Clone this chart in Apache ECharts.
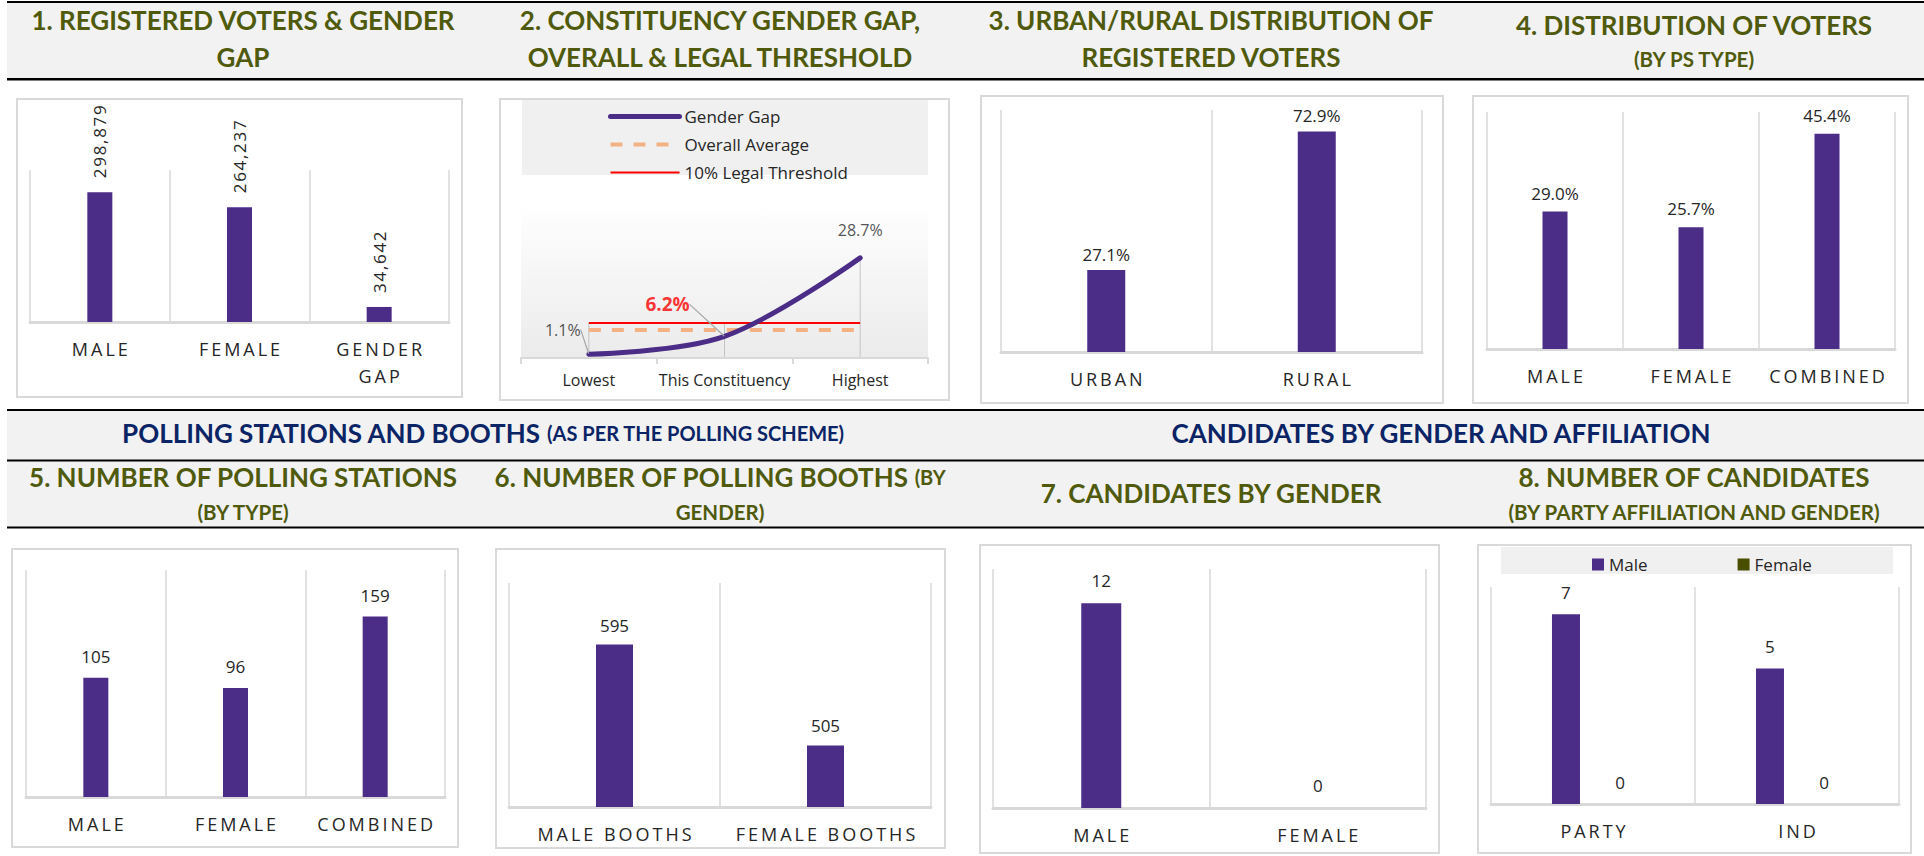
<!DOCTYPE html>
<html>
<head>
<meta charset="utf-8">
<script src="https://cdn.jsdelivr.net/npm/echarts@6.0.0/dist/echarts.min.js"></script>
<style>
html, body { margin: 0; padding: 0; background: #fff; }
#main { width: 1924px; height: 856px; }
</style>
</head>
<body>
<div id="main"></div>
<script>
// 1. registered voters & gender gap
var voterCats = ['MALE', 'FEMALE', 'GENDER\nGAP'];
var voterValues = [298879, 264237, 34642];
// 2. constituency gender gap (%)
var gapCats = ['Lowest', 'This Constituency', 'Highest'];
var genderGap = [1.1, 6.2, 28.7];
var overallAverage = [8.0, 8.0, 8.0];
var legalThreshold = [10, 10, 10];
// 3. urban / rural (%)
var areaCats = ['URBAN', 'RURAL'];
var areaShare = [27.1, 72.9];
// 4. voters by PS type (%)
var psTypeCats = ['MALE', 'FEMALE', 'COMBINED'];
var psTypeShare = [29.0, 25.7, 45.4];
// 5. polling stations by type
var stationCats = ['MALE', 'FEMALE', 'COMBINED'];
var stationCounts = [105, 96, 159];
// 6. polling booths by gender
var boothCats = ['MALE BOOTHS', 'FEMALE BOOTHS'];
var boothCounts = [595, 505];
// 7. candidates by gender
var candCats = ['MALE', 'FEMALE'];
var candCounts = [12, 0];
// 8. candidates by affiliation and gender
var affilCats = ['PARTY', 'IND'];
var maleCands = [7, 5];
var femaleCands = [0, 0];

var PURPLE = '#4b2c86';
var OLIVE = '#4f5a0c';
var NAVY = '#0b2466';
var GRID_LINE = '#d9d9d9';
var TXT = '#262626';
var FONT = 'Open Sans';

function spaced(s) {
  return s.split('\n').map(function (l) { return l.split('').join('\u2009'); }).join('\n');
}

function catAxis(i, cats, extra) {
  var ax = {
    gridIndex: i, type: 'category', data: cats, z: 3,
    axisLine: { lineStyle: { color: GRID_LINE, width: 3 } },
    axisTick: { show: false },
    splitLine: { show: true, lineStyle: { color: GRID_LINE, width: 1.5 } },
    axisLabel: { interval: 0, margin: 16, fontSize: 18, lineHeight: 21, color: TXT, fontFamily: FONT, formatter: spaced }
  };
  return Object.assign(ax, extra || {});
}
function valAxis(i, min, max) {
  return { gridIndex: i, type: 'value', min: min, max: max, show: false };
}
function bars(i, name, data, width, dist, fmt) {
  return {
    type: 'bar', name: name, xAxisIndex: i, yAxisIndex: i, data: data, barWidth: width, z: 4,
    itemStyle: { color: PURPLE },
    label: { show: true, position: 'top', distance: dist, color: TXT, fontFamily: FONT, fontSize: 17, formatter: fmt || '{c}' }
  };
}
var pct = function (p) { return p.value.toFixed(1) + '%'; };

// page frame: bands, rules, panel boxes, titles
var g = [];
function rect(x, y, w, h, style, z) { g.push({ type: 'rect', z: z, silent: true, shape: { x: x, y: y, width: w, height: h }, style: style }); }
function title(x, y, text, size, color, rich) {
  g.push({ type: 'text', z: 10, x: x, y: y, style: {
    text: text, fill: color || OLIVE, font: 'bold ' + size + 'px Lato', align: 'center', verticalAlign: 'middle', rich: rich
  } });
}
rect(7, 2, 1917, 77, { fill: '#f2f2f2' }, -10);
rect(7, 1, 1917, 2, { fill: '#000' }, -9);
rect(7, 78, 1917, 2.5, { fill: '#000' }, -9);
rect(7, 410, 1917, 117, { fill: '#f2f2f2' }, -10);
rect(7, 409, 1917, 2, { fill: '#000' }, -9);
rect(7, 459.5, 1917, 2, { fill: '#000' }, -9);
rect(7, 526.5, 1917, 2, { fill: '#000' }, -9);
[[17, 99, 445, 298], [500, 99, 449, 301], [981, 96, 462, 307], [1473, 96, 435, 307],
 [12, 549, 446, 298], [496, 549, 449, 299], [980, 545, 459, 308], [1478, 545, 433, 308]].forEach(function (b) {
  rect(b[0], b[1], b[2], b[3], { fill: '#fff', stroke: GRID_LINE, lineWidth: 2 }, -10);
});
rect(522, 100, 406, 75, { fill: '#f0f0f0' }, -9);
rect(1501, 547, 392, 27, { fill: '#f0f0f0' }, -9);

var T = 26, S = 20.5;
title(243, 20, '1. REGISTERED VOTERS & GENDER', T);
title(243, 57, 'GAP', T);
title(720, 20, '2. CONSTITUENCY GENDER GAP,', T);
title(720, 57, 'OVERALL & LEGAL THRESHOLD', T);
title(1211, 20, '3. URBAN/RURAL DISTRIBUTION OF', T);
title(1211, 57, 'REGISTERED VOTERS', T);
title(1694, 25, '4. DISTRIBUTION OF VOTERS', T);
title(1694, 59, '(BY PS TYPE)', S);
title(483, 433, '{a|POLLING STATIONS AND BOOTHS }{b|(AS PER THE POLLING SCHEME)}', T, NAVY,
  { a: { font: 'bold 26px Lato', fill: NAVY }, b: { font: 'bold 20px Lato', fill: NAVY } });
title(1441, 433, 'CANDIDATES BY GENDER AND AFFILIATION', 26, NAVY);
title(243, 477, '5. NUMBER OF POLLING STATIONS', T);
title(243, 512, '(BY TYPE)', S);
title(720, 477, '{a|6. NUMBER OF POLLING BOOTHS }{b|(BY}', T, OLIVE,
  { a: { font: 'bold 26px Lato', fill: OLIVE }, b: { font: 'bold 20px Lato', fill: OLIVE } });
title(720, 512, 'GENDER)', S);
title(1211, 493, '7. CANDIDATES BY GENDER', T);
title(1694, 477, '8. NUMBER OF CANDIDATES', T);
title(1694, 512, '(BY PARTY AFFILIATION AND GENDER)', S);

var chart = echarts.init(document.getElementById('main'), null, { renderer: 'svg' });

// label placement for the gap curve: 1.1% left with leader, 6.2% red to the upper left, 28.7% above
var gapLabelData = genderGap.map(function (v, i) {
  if (i === 1) return { value: v, label: { color: '#ff0000', fontWeight: 'bold', fontSize: 19 } };
  if (i === 2) return { value: v, labelLine: { show: false } };
  return v;
});
var gapOffsets = [[-26, -11], [-57, -17], [0, -14]];

var option = {
  backgroundColor: '#fff',
  animation: false,
  graphic: { elements: g },
  legend: [{
    data: [
      { name: 'Gender Gap', lineStyle: { width: 5 } },
      { name: 'Overall Average', lineStyle: { width: 4 } },
      { name: '10% Legal Threshold', lineStyle: { width: 2 } }
    ],
    orient: 'vertical', left: 603, top: 103, itemWidth: 69, itemHeight: 14, itemGap: 11,
    itemStyle: { opacity: 0 },
    selectedMode: false, textStyle: { fontSize: 17, color: TXT, fontFamily: FONT }
  }, {
    data: ['Male', 'Female'], icon: 'rect', left: 1587, top: 551, itemWidth: 12, itemHeight: 12, itemGap: 90,
    selectedMode: false, textStyle: { fontSize: 17, color: TXT, fontFamily: FONT }
  }],
  grid: [
    { left: 30, top: 170, width: 419, height: 152 },
    { left: 521, top: 201, width: 407, height: 157, show: true, borderWidth: 0,
      backgroundColor: new echarts.graphic.LinearGradient(0, 0, 0, 1, [{ offset: 0, color: '#ffffff' }, { offset: 1, color: '#ebebeb' }]) },
    { left: 1001, top: 110, width: 421, height: 242 },
    { left: 1487, top: 112, width: 408, height: 237 },
    { left: 26, top: 570, width: 419, height: 227 },
    { left: 509, top: 583, width: 422, height: 224 },
    { left: 993, top: 569, width: 433, height: 239 },
    { left: 1491, top: 587, width: 408, height: 217 }
  ],
  xAxis: [
    catAxis(0, voterCats, { axisLabel: { interval: 0, margin: 13, fontSize: 18, lineHeight: 27, color: TXT, fontFamily: FONT, formatter: spaced } }),
    catAxis(1, gapCats, {
      axisLine: { lineStyle: { color: GRID_LINE, width: 2 } },
      axisTick: { show: true, length: 6, lineStyle: { color: GRID_LINE, width: 2 } },
      splitLine: { show: false },
      axisLabel: { interval: 0, margin: 14, fontSize: 16, color: TXT, fontFamily: FONT }
    }),
    catAxis(2, areaCats),
    catAxis(3, psTypeCats),
    catAxis(4, stationCats),
    catAxis(5, boothCats),
    catAxis(6, candCats),
    catAxis(7, affilCats)
  ],
  yAxis: [
    valAxis(0, 0, 350000),
    valAxis(1, 0, 45),
    valAxis(2, 0, 80),
    valAxis(3, 0, 50),
    valAxis(4, 0, 200),
    valAxis(5, 450, 650),
    valAxis(6, 0, 14),
    valAxis(7, 0, 8)
  ],
  series: [
    Object.assign(bars(0, 'Registered', voterValues, 25, 14), {
      label: { show: true, position: 'top', rotate: 90, align: 'left', verticalAlign: 'middle', distance: 14,
        color: TXT, fontFamily: FONT, fontSize: 17,
        formatter: function (p) { return p.value.toLocaleString('en-US').split('').join('\u200a'); } }
    }),
    {
      type: 'bar', name: 'drop', xAxisIndex: 1, yAxisIndex: 1, barWidth: 1, silent: true, z: 2,
      data: genderGap.map(function (v, i) { return Math.max(v, overallAverage[i], legalThreshold[i]); }),
      itemStyle: { color: '#c4c4c4' }
    },
    {
      type: 'line', name: 'Overall Average', xAxisIndex: 1, yAxisIndex: 1, data: overallAverage,
      symbol: 'none', lineStyle: { color: '#f4b183', width: 4, type: [12, 11] }, itemStyle: { color: '#f4b183' }, z: 3
    },
    {
      type: 'line', name: '10% Legal Threshold', xAxisIndex: 1, yAxisIndex: 1, data: legalThreshold,
      symbol: 'none', lineStyle: { color: '#ff0000', width: 2 }, itemStyle: { color: '#ff0000' }, z: 3
    },
    {
      type: 'line', name: 'Gender Gap', xAxisIndex: 1, yAxisIndex: 1, data: genderGap, smooth: 0.35,
      symbol: 'none', lineStyle: { color: PURPLE, width: 5, cap: 'round' }, itemStyle: { color: PURPLE }, z: 4
    },
    {
      type: 'scatter', name: 'gapLabels', xAxisIndex: 1, yAxisIndex: 1, data: gapLabelData, z: 5,
      symbolSize: 1, itemStyle: { color: 'rgba(0,0,0,0)' }, silent: true,
      label: { show: true, position: 'top', distance: 5, color: TXT, fontFamily: FONT, fontSize: 16,
        formatter: function (p) { return p.value.toFixed(1) + '%'; } },
      labelLine: { show: true, lineStyle: { color: '#a6a6a6', width: 1.2 } },
      labelLayout: function (p) { var o = gapOffsets[p.dataIndex]; return { dx: o[0], dy: o[1] }; }
    },
    bars(2, 'Area', areaShare, 38, 7, pct),
    bars(3, 'PS type', psTypeShare, 25, 10, pct),
    bars(4, 'Stations', stationCounts, 25, 13),
    bars(5, 'Booths', boothCounts, 37, 11),
    bars(6, 'Candidates', candCounts, 40, 14),
    Object.assign(bars(7, 'Male', maleCands, 28, 13), { barGap: '93%' }),
    Object.assign(bars(7, 'Female', femaleCands, 28, 13), { itemStyle: { color: '#4a4f00' } })
  ]
};
chart.setOption(option);
</script>
</body>
</html>
